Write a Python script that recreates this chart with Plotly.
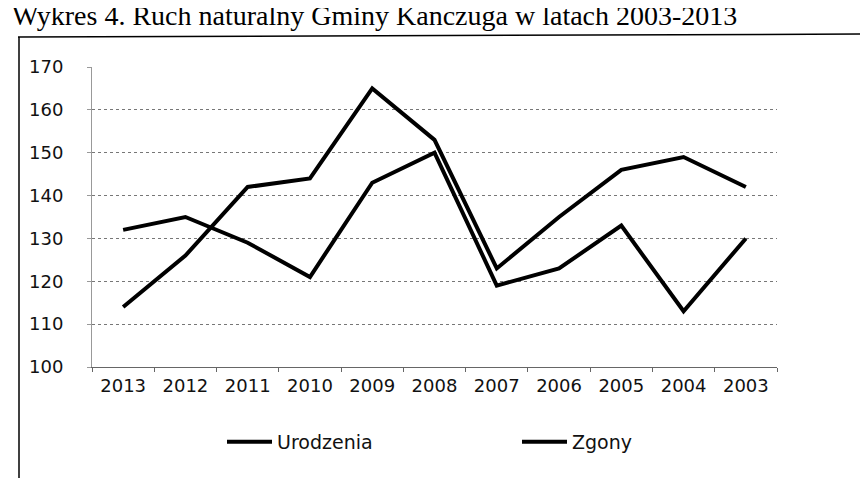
import plotly.graph_objects as go

years = ["2013", "2012", "2011", "2010", "2009", "2008", "2007", "2006", "2005", "2004", "2003"]
urodzenia = [114, 126, 142, 144, 165, 153, 123, 135, 146, 149, 142]
zgony = [132, 135, 129, 121, 143, 150, 119, 123, 133, 113, 130]
y_ticks = [100, 110, 120, 130, 140, 150, 160, 170]

W, H = 868, 478
L, R, T, B = 84, 99, 59, 119
PW, PH = W - L - R, H - T - B


def px(x):
    return (x - L) / PW


def py(y):
    return (H - B - y) / PH


fig = go.Figure()
fig.add_trace(go.Scatter(x=years, y=urodzenia, name="Urodzenia", mode="lines",
                         line=dict(color="#000000", width=4)))
fig.add_trace(go.Scatter(x=years, y=zgony, name="Zgony", mode="lines",
                         line=dict(color="#000000", width=4)))

fig.update_layout(
    width=W, height=H,
    margin=dict(l=L, r=R, t=T, b=B),
    paper_bgcolor="white", plot_bgcolor="white",
    showlegend=True,
    legend=dict(orientation="h", x=px(214), xanchor="left", y=py(434), yanchor="middle",
                font=dict(family="DejaVu Sans", size=19, color="#111111"),
                itemwidth=45,
                entrywidth=235, entrywidthmode="pixels", bgcolor="rgba(0,0,0,0)"),
    xaxis=dict(type="category", range=[-0.5, len(years) - 0.5], showgrid=False,
               showline=True, linecolor="#666666",
               linewidth=1, ticks="outside", ticklen=4, tickcolor="#666666",
               tickson="boundaries",
               tickfont=dict(family="DejaVu Sans", size=18, color="#111111"),
               ticklabelstandoff=2, fixedrange=True),
    yaxis=dict(range=[100, 170], tickvals=y_ticks, showgrid=True, gridcolor="#777777",
               griddash="dot", gridwidth=1, showline=True, linecolor="#999999",
               linewidth=1, zeroline=False, ticks="outside", ticklen=4, tickcolor="#999999",
               tickfont=dict(family="DejaVu Sans", size=18, color="#111111"),
               ticklabelstandoff=20, fixedrange=True),
)

# title text (scan header)
fig.add_annotation(text="Wykres 4. Ruch naturalny Gminy Kanczuga w latach 2003-2013",
                   xref="paper", yref="paper", x=px(2), y=py(7), xanchor="left",
                   yanchor="middle", showarrow=False,
                   font=dict(family="Liberation Serif", size=28, color="#000000"))

# frame lines of the scanned figure
fig.add_shape(type="line", xref="paper", yref="paper", x0=px(10), x1=px(868),
              y0=py(29), y1=py(26), line=dict(color="#000000", width=1.5))
fig.add_shape(type="line", xref="paper", yref="paper", x0=px(11), x1=px(11),
              y0=py(29), y1=py(478), line=dict(color="#000000", width=1.5))

fig.write_html("out.html")
